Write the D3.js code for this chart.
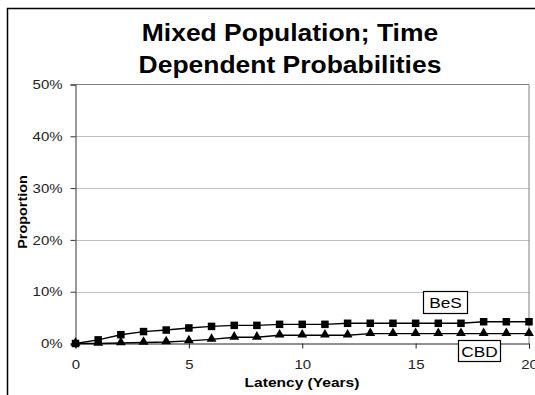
<!DOCTYPE html>
<html>
<head>
<meta charset="utf-8">
<script src="https://cdn.jsdelivr.net/npm/d3@7"></script>
<style>
body { margin: 0; background: #fff; }
text { font-family: "Liberation Sans", Arial, sans-serif; }
</style>
</head>
<body>
<svg id="chart" width="535" height="395"></svg>
<script>
// data
var years = d3.range(0, 21);
var besValues = [0, 0.7, 1.7, 2.3, 2.6, 3.0, 3.3, 3.5, 3.5, 3.7, 3.7, 3.7, 3.9, 3.9, 3.9, 3.9, 3.9, 3.9, 4.2, 4.2, 4.2];
var cbdValues = [0, 0, 0.1, 0.2, 0.3, 0.5, 0.8, 1.2, 1.2, 1.6, 1.6, 1.6, 1.6, 1.9, 1.9, 1.9, 1.9, 1.9, 1.9, 1.9, 1.9];
var yTicks = [0, 10, 20, 30, 40, 50];
var xTicks = [0, 5, 10, 15, 20];
var titleLines = ["Mixed Population; Time", "Dependent Probabilities"];

var svg = d3.select("#chart");
var stretch = 1.15; // text in the picture is a bit wider than normal

var x = d3.scaleLinear().domain([0, 20]).range([75.5, 529]);
var y = d3.scaleLinear().domain([0, 50]).range([343.5, 84.5]);

function widen(sel) {
    sel.each(function () {
        var w = this.getComputedTextLength();
        d3.select(this).attr("textLength", w * stretch).attr("lengthAdjust", "spacingAndGlyphs");
    });
}

// outer frame
svg.append("rect").attr("x", 7.5).attr("y", 8.5).attr("width", 540).attr("height", 400)
    .attr("fill", "none").attr("stroke", "#000").attr("stroke-width", 1.5);

// title
svg.selectAll("text.title").data(titleLines).enter().append("text")
    .attr("class", "title")
    .attr("x", 290)
    .attr("y", function (d, i) { return 41 + i * 32; })
    .attr("text-anchor", "middle")
    .style("font-size", "23px").style("font-weight", "bold")
    .text(function (d) { return d; })
    .call(widen);

// gridlines
svg.selectAll("line.grid").data(yTicks.slice(1, 5)).enter().append("line")
    .attr("class", "grid")
    .attr("x1", x(0)).attr("x2", x(20))
    .attr("y1", function (d) { return Math.round(y(d)) + 0.5; })
    .attr("y2", function (d) { return Math.round(y(d)) + 0.5; })
    .attr("stroke", "#c0c0c0");

// plot border (top / right)
svg.append("path")
    .attr("d", "M" + x(0) + "," + y(50) + "H" + x(20) + "V" + y(0))
    .attr("fill", "none").attr("stroke", "#808080");

// y axis
var yAxis = svg.append("g").attr("transform", "translate(" + x(0) + ",0)")
    .call(d3.axisLeft(y).tickValues(yTicks).tickSize(5).tickPadding(8)
        .tickFormat(function (d) { return d + "%"; }));
yAxis.select(".domain").attr("stroke", "#333");
yAxis.selectAll(".tick line").attr("stroke", "#333");
yAxis.selectAll("text").style("font-size", "13px").attr("fill", "#222").call(widen);

// x axis
var xAxis = svg.append("g").attr("transform", "translate(0," + y(0) + ")")
    .call(d3.axisBottom(x).tickValues(xTicks).tickSize(5).tickPadding(11));
xAxis.select(".domain").attr("stroke", "#222");
xAxis.selectAll(".tick line").attr("stroke", "#222");
xAxis.selectAll("text").style("font-size", "13px").attr("fill", "#222").call(widen);

// axis titles
svg.append("text").attr("x", 302).attr("y", 387).attr("text-anchor", "middle")
    .style("font-size", "13.5px").style("font-weight", "bold").text("Latency (Years)")
    .call(widen);
svg.append("text").attr("transform", "translate(27,212) rotate(-90)")
    .attr("text-anchor", "middle")
    .style("font-size", "12.5px").style("font-weight", "bold").text("Proportion")
    .call(widen);

// series
var line = d3.line()
    .x(function (d) { return x(d[0]); })
    .y(function (d) { return y(d[1]); });

var bes = years.map(function (yr, i) { return [yr, besValues[i]]; });
var cbd = years.map(function (yr, i) { return [yr, cbdValues[i]]; });

svg.append("path").datum(cbd).attr("d", line)
    .attr("fill", "none").attr("stroke", "#000").attr("stroke-width", 1.4);
svg.append("path").datum(bes).attr("d", line)
    .attr("fill", "none").attr("stroke", "#000").attr("stroke-width", 1.4);

var tri = d3.symbol().type(d3.symbolTriangle).size(42);
svg.selectAll("path.cbd").data(cbd).enter().append("path")
    .attr("class", "cbd")
    .attr("d", tri)
    .attr("transform", function (d) { return "translate(" + x(d[0]) + "," + (y(d[1]) - 0.5) + ")"; })
    .attr("fill", "#000");

svg.selectAll("rect.bes").data(bes).enter().append("rect")
    .attr("class", "bes")
    .attr("x", function (d) { return x(d[0]) - 3.75; })
    .attr("y", function (d) { return y(d[1]) - 3.75; })
    .attr("width", 7.5).attr("height", 7.5)
    .attr("fill", "#000");

// series labels
var labels = [
    { name: "BeS", x: 423.5, y: 291.5, w: 44, h: 22 },
    { name: "CBD", x: 458.5, y: 340.5, w: 42, h: 21 }
];
var lab = svg.selectAll("g.lab").data(labels).enter().append("g").attr("class", "lab");
lab.append("rect")
    .attr("x", function (d) { return d.x; }).attr("y", function (d) { return d.y; })
    .attr("width", function (d) { return d.w; }).attr("height", function (d) { return d.h; })
    .attr("fill", "#fff").attr("stroke", "#000").attr("stroke-width", 1.2);
lab.append("text")
    .attr("x", function (d) { return d.x + d.w / 2; })
    .attr("y", function (d) { return d.y + d.h / 2 + 5.5; })
    .attr("text-anchor", "middle")
    .style("font-size", "15px")
    .text(function (d) { return d.name; })
    .call(widen);
</script>
</body>
</html>
